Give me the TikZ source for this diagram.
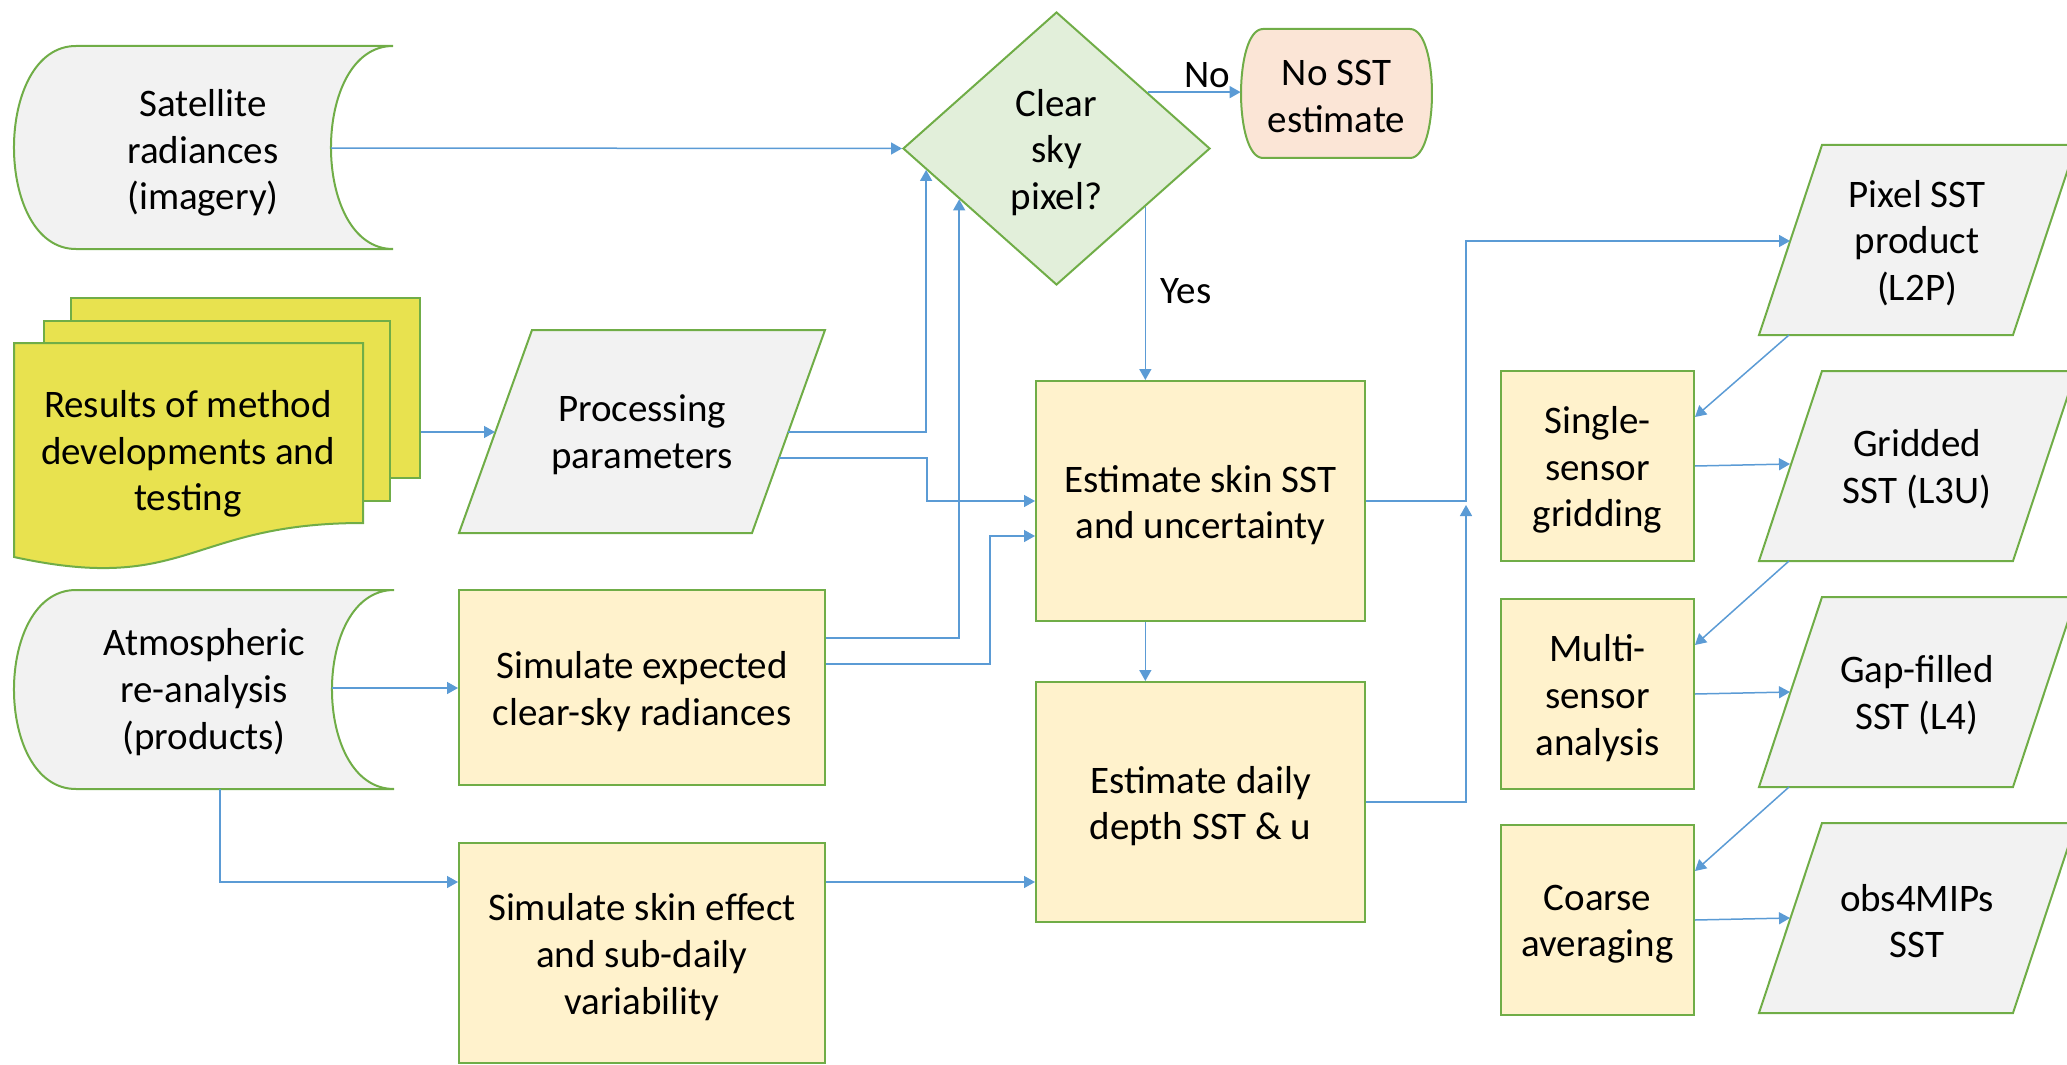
\documentclass[tikz,border=0pt]{standalone}
\usepackage{fontspec}
\setmainfont{Carlito}
\usetikzlibrary{arrows.meta,shapes.geometric,calc}
\definecolor{gborder}{HTML}{70AD47}
\definecolor{gfill}{HTML}{F2F2F2}
\definecolor{yfill}{HTML}{FFF2CC}
\definecolor{dfill}{HTML}{E2EFDA}
\definecolor{pfill}{HTML}{FBE5D6}
\definecolor{sfill}{HTML}{E8E24F}
\definecolor{ablue}{HTML}{5B9BD5}
\begin{document}
\begin{tikzpicture}[x=0.5pt,y=-0.5pt,
  shp/.style={draw=gborder,line width=1pt},
  txt/.style={align=center,font=\fontsize{19.5}{23.3}\selectfont,inner sep=0pt},
  procbox/.style={shp,fill=yfill,rectangle,inner sep=0pt},
  ln/.style={draw=ablue,line width=0.75pt},
  arr/.style={ln,-{Triangle[length=5.5pt,width=6pt]}},
]
\useasboundingbox (0,0) rectangle (2067,1065);

% helper coordinates
\coordinate (y638) at (0,638);
\coordinate (y664) at (0,664);
\coordinate (y882) at (0,882);
\coordinate (k1) at (990,536);
\coordinate (k2) at (927,501);
\coordinate (tdown) at (0,4);

% Satellite radiances (stored data)
\filldraw[shp,fill=gfill] (76,46) -- (393,46) .. controls (310.3,46) and (310.3,249) .. (393,249) -- (76,249) .. controls (-6.7,249) and (-6.7,46) .. (76,46) -- cycle;
\node[txt] (sat) at (203,153) {Satellite\\radiances\\(imagery)};
\coordinate (sat-out) at (331,148);

% Results stack
\node[shp,fill=sfill,rectangle,minimum width=174.5pt,minimum height=90pt,inner sep=0pt,anchor=north west] (back) at (70,297) {};
\node[shp,fill=sfill,rectangle,minimum width=173pt,minimum height=90pt,inner sep=0pt,anchor=north west] (middle) at (43,320) {};
\filldraw[shp,fill=sfill] (14,343) -- (363,343) -- (363,523) .. controls (188,523) and (188,595) .. (14,557) -- cycle;
\node[txt] (results) at (188,454) {Results of method\\developments and\\testing};

% Processing parameters
\filldraw[shp,fill=gfill] (532,330) -- (825,330) -- (752,533) -- (459,533) -- cycle;
\node[txt] (proc) at (642,435) {Processing\\parameters};
\coordinate (proc-in) at (495,432);
\coordinate (proc-o1) at (788,432);
\coordinate (proc-o2) at (779,458);

% Decision
\node[shp,fill=dfill,diamond,minimum width=153.5pt,minimum height=136.5pt,inner sep=0pt] (clear) at (1056.5,148.5) {};
\node[txt] (clear-t) at ($(clear)+(tdown)$) {Clear\\sky\\pixel?};

% No SST estimate
\filldraw[shp,fill=pfill] (1263,29) -- (1410,29) .. controls (1439.3,29) and (1439.3,158) .. (1410,158) -- (1263,158) .. controls (1233.7,158) and (1233.7,29) .. (1263,29) -- cycle;
\node[txt,minimum width=95.5pt,minimum height=64.5pt] (nosst) at (1336.5,96.5) {No SST\\estimate};

% Atmospheric re-analysis
\filldraw[shp,fill=gfill] (76,590) -- (394,590) .. controls (311.3,590) and (311.3,789) .. (394,789) -- (76,789) .. controls (-6.7,789) and (-6.7,590) .. (76,590) -- cycle;
\node[txt] (atm) at (204,692) {Atmospheric\\re-analysis\\(products)};
\coordinate (atm-out) at (332,688);
\coordinate (atm-down) at (220,789);

% process boxes
\node[procbox,minimum width=183pt,minimum height=97.5pt] (simexp) at (642,687.5) {};
\node[txt] (simexp-t) at ($(simexp)+(tdown)$) {Simulate expected\\clear-sky radiances};
\node[procbox,minimum width=183pt,minimum height=110pt] (simskin) at (642,953) {};
\node[txt] (simskin-t) at ($(simskin)+(tdown)$) {Simulate skin effect\\and sub-daily\\variability};
\node[procbox,minimum width=164.5pt,minimum height=120pt] (skin) at (1200.5,501) {};
\node[txt] (skin-t) at ($(skin)+(tdown)$) {Estimate skin SST\\and uncertainty};
\node[procbox,minimum width=164.5pt,minimum height=120pt] (daily) at (1200.5,802) {};
\node[txt] (daily-t) at ($(daily)+(tdown)$) {Estimate daily\\depth SST \& u};

% right column boxes
\node[procbox,minimum width=96.5pt,minimum height=95pt] (single) at (1597.5,466) {};
\node[txt] (single-t) at ($(single)+(tdown)$) {Single-\\sensor\\gridding};
\node[procbox,minimum width=96.5pt,minimum height=95pt] (multi) at (1597.5,694) {};
\node[txt] (multi-t) at ($(multi)+(tdown)$) {Multi-\\sensor\\analysis};
\node[procbox,minimum width=96.5pt,minimum height=95pt] (coarse) at (1597.5,920) {};
\node[txt] (coarse-t) at ($(coarse)+(tdown)$) {Coarse\\averaging};

% right column products
\filldraw[shp,fill=gfill] (1822,145) -- (2076,145) -- (2013,335) -- (1759,335) -- cycle;
\node[txt] (pixel) at (1917,243) {Pixel SST\\product\\(L2P)};
\filldraw[shp,fill=gfill] (1822,371) -- (2076,371) -- (2013,561) -- (1759,561) -- cycle;
\node[txt] (grid) at (1917,469) {Gridded\\SST (L3U)};
\filldraw[shp,fill=gfill] (1822,597) -- (2076,597) -- (2013,787) -- (1759,787) -- cycle;
\node[txt] (gap) at (1917,695) {Gap-filled\\SST (L4)};
\filldraw[shp,fill=gfill] (1822,823) -- (2076,823) -- (2013,1013) -- (1759,1013) -- cycle;
\node[txt] (obs) at (1917,921) {obs4MIPs\\SST};
\coordinate (pix-in) at (1790,241);
\coordinate (pix-out) at (1789,335);
\coordinate (grid-in) at (1790,464);
\coordinate (grid-out) at (1789,561);
\coordinate (gap-in) at (1790,692);
\coordinate (gap-out) at (1789,787);
\coordinate (obs-in) at (1790,918);

% connectors
\draw[arr] (sat-out) -- (clear.west);
\draw[arr] (back.east |- proc-in) -- (proc-in);
\draw[arr] (proc-o1) -| ($(clear.west)!0.156!(clear.south)$);
\draw[arr] (proc-o2) -| (k2) -- (skin.west |- k2);
\coordinate (no-s) at ($(clear.east)!0.41!(clear.north)$);
\draw[arr] (no-s) -- (no-s -| nosst.west);
\node[txt] (nolabel) at (1207,75) {No};
\coordinate (yes-s) at ($(clear.east)!0.425!(clear.south)$);
\draw[arr] (yes-s) -- (yes-s |- skin.north);
\node[txt] (yeslabel) at (1186,291) {Yes};
\draw[arr] (skin.south -| yes-s) -- (daily.north -| yes-s);
\draw[arr] (atm-out) -- (simexp.west |- atm-out);
\draw[arr] (atm-down) |- (simskin.west |- y882);
\draw[arr] (simskin.east |- y882) -- (daily.west |- y882);
\draw[arr] (simexp.east |- y638) -| ($(clear.west)!0.37!(clear.south)$);
\draw[arr] (simexp.east |- y664) -| (k1) -- (skin.west |- k1);
\coordinate (junc) at (1466,501);
\draw[arr] (skin.east) -- (junc) |- (pix-in);
\draw[arr] (daily.east) -| ($(junc)+(0,4)$);
\draw[arr] (pix-out) -- ($(single.north east)+(0,47)$);
\draw[arr] (single.east) -- (grid-in);
\draw[arr] (grid-out) -- ($(multi.north east)+(0,47)$);
\draw[arr] (multi.east) -- (gap-in);
\draw[arr] (gap-out) -- ($(coarse.north east)+(0,47)$);
\draw[arr] (coarse.east) -- (obs-in);
\end{tikzpicture}
\end{document}
